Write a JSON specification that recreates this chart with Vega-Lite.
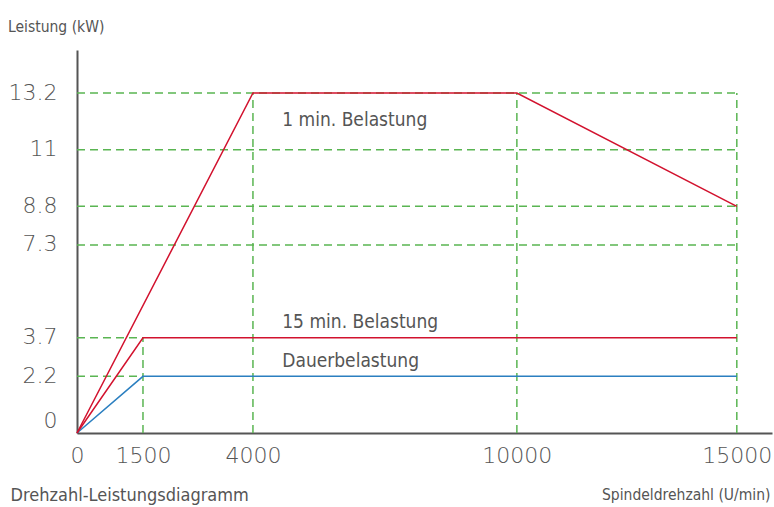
{
  "$schema": "https://vega.github.io/schema/vega-lite/v6.json",
  "width": 695,
  "height": 383,
  "autosize": "none",
  "padding": {"left": 77, "top": 50, "right": 2, "bottom": 74},
  "background": "white",
  "config": {"view": {"stroke": null}},
  "title": {"text": "Leistung (kW)", "anchor": "start", "frame": "group", "offset": 15, "dx": -69, "font": "'DejaVu Sans Condensed', 'Roboto Condensed', 'Liberation Sans Narrow', Roboto, sans-serif", "fontSize": 15.5, "fontWeight": "normal", "color": "#555555"},
  "datasets": {
    "grid": [
      {"x": 0, "x2": 15000, "y": 13.2, "y2": 13.2},
      {"x": 0, "x2": 15000, "y": 11, "y2": 11},
      {"x": 0, "x2": 15000, "y": 8.8, "y2": 8.8},
      {"x": 0, "x2": 15000, "y": 7.3, "y2": 7.3},
      {"x": 0, "x2": 1500, "y": 3.7, "y2": 3.7},
      {"x": 0, "x2": 1500, "y": 2.2, "y2": 2.2},
      {"x": 1500, "x2": 1500, "y": 0, "y2": 3.7},
      {"x": 4000, "x2": 4000, "y": 0, "y2": 13.2},
      {"x": 10000, "x2": 10000, "y": 0, "y2": 13.2},
      {"x": 15000, "x2": 15000, "y": 0, "y2": 13.2}
    ],
    "curves": [
      {"series": "Dauerbelastung", "x": 0, "y": 0},
      {"series": "Dauerbelastung", "x": 1500, "y": 2.2},
      {"series": "Dauerbelastung", "x": 15000, "y": 2.2},
      {"series": "15 min. Belastung", "x": 0, "y": 0},
      {"series": "15 min. Belastung", "x": 1500, "y": 3.7},
      {"series": "15 min. Belastung", "x": 15000, "y": 3.7},
      {"series": "1 min. Belastung", "x": 0, "y": 0},
      {"series": "1 min. Belastung", "x": 4000, "y": 13.2},
      {"series": "1 min. Belastung", "x": 10000, "y": 13.2},
      {"series": "1 min. Belastung", "x": 15000, "y": 8.8}
    ],
    "labels": [
      {"label": "1 min. Belastung", "x": 4666, "y": 11.92},
      {"label": "15 min. Belastung", "x": 4666, "y": 4.08},
      {"label": "Dauerbelastung", "x": 4666, "y": 2.56}
    ]
  },
  "encoding": {
    "x": {
      "field": "x", "type": "quantitative",
      "scale": {"domain": [0, 15800], "nice": false, "zero": false},
      "axis": {
        "values": [0, 1500, 4000, 10000, 15000],
        "labelExpr": "'' + datum.value",
        "grid": false, "ticks": false,
        "domainColor": "#555555", "domainWidth": 2,
        "labelFont": "DejaVu Sans", "labelFontWeight": 200, "labelFontSize": 22, "labelColor": "#555555",
        "labelPadding": 12, "labelFlush": false, "labelOverlap": false,
        "title": "Spindeldrehzahl (U/min)",
        "titleFont": "'DejaVu Sans Condensed', 'Roboto Condensed', 'Liberation Sans Narrow', Roboto, sans-serif", "titleFontSize": 15.5, "titleFontWeight": "normal", "titleColor": "#555555",
        "titleAlign": "right", "titleAnchor": null, "titleBaseline": "alphabetic", "titleX": 693, "titleY": 66
      }
    },
    "y": {
      "field": "y", "type": "quantitative",
      "scale": {"domain": [0, 14.87], "nice": false},
      "axis": {
        "values": [0, 2.2, 3.7, 7.3, 8.8, 11, 13.2],
        "labelExpr": "'' + datum.value",
        "grid": false, "ticks": false,
        "domainColor": "#555555", "domainWidth": 2,
        "labelFont": "DejaVu Sans", "labelFontWeight": 200, "labelFontSize": 22, "labelColor": "#555555",
        "labelPadding": 20, "labelFlush": false, "labelOverlap": false, "labelOffset": -1,
        "labelBaseline": {"condition": {"test": "datum.value === 0", "value": "bottom"}, "value": "middle"},
        "title": "Drehzahl-Leistungsdiagramm",
        "titleFont": "'DejaVu Sans Condensed', 'Roboto Condensed', 'Liberation Sans Narrow', Roboto, sans-serif", "titleFontSize": 18, "titleFontWeight": "normal", "titleColor": "#555555",
        "titleAngle": 0, "titleAlign": "left", "titleAnchor": null, "titleBaseline": "alphabetic", "titleX": -67, "titleY": 450
      }
    }
  },
  "layer": [
    {
      "data": {"name": "grid"},
      "mark": {"type": "rule", "color": "#5ab552", "strokeWidth": 1.5, "strokeDash": [8, 5]},
      "encoding": {"x2": {"field": "x2"}, "y2": {"field": "y2"}}
    },
    {
      "data": {"name": "curves"},
      "mark": {"type": "line", "strokeWidth": 1.5},
      "encoding": {
        "color": {"field": "series", "type": "nominal", "legend": null,
          "scale": {"domain": ["1 min. Belastung", "15 min. Belastung", "Dauerbelastung"], "range": ["#d2122e", "#d2122e", "#2b7fc0"]}},
        "order": {"field": "x", "type": "quantitative"}
      }
    },
    {
      "data": {"name": "labels"},
      "mark": {"type": "text", "align": "left", "baseline": "alphabetic", "font": "'DejaVu Sans Condensed', 'Roboto Condensed', 'Liberation Sans Narrow', Roboto, sans-serif", "fontSize": 19, "color": "#555555"},
      "encoding": {"text": {"field": "label"}}
    },
    {
      "data": {"values": [{}]},
      "mark": {"type": "point", "shape": "triangle-up", "size": 100, "filled": true, "color": "#555555", "opacity": 1},
      "encoding": {"x": {"datum": 0, "type": "quantitative"}, "y": {"datum": 14.7, "type": "quantitative"}}
    },
    {
      "data": {"values": [{}]},
      "mark": {"type": "point", "shape": "triangle-right", "size": 100, "filled": true, "color": "#555555", "opacity": 1},
      "encoding": {"x": {"datum": 15700, "type": "quantitative"}, "y": {"datum": 0, "type": "quantitative"}}
    }
  ]
}
